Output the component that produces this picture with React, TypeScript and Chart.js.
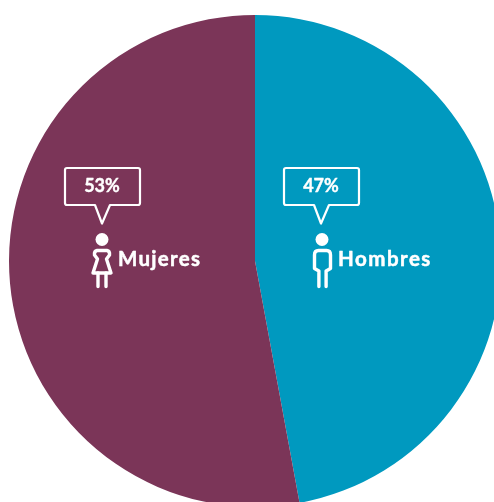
import React, { useEffect, useRef } from "react";
import { Chart, registerables } from "chart.js";

Chart.register(...registerables);

const categories = ["Hombres", "Mujeres"];
const values = [47.1, 52.9];
const colors = ["#0099BF", "#7B3558"];
const percentLabels = ["47%", "53%"];

const WHITE = "#FFFFFF";

function bubble(ctx: CanvasRenderingContext2D, dx: number) {
  const l = 65 + dx, r = 140 + dx, t = 168, b = 205, rad = 2;
  ctx.beginPath();
  ctx.moveTo(l + rad, t);
  ctx.lineTo(r - rad, t);
  ctx.quadraticCurveTo(r, t, r, t + rad);
  ctx.lineTo(r, b - rad);
  ctx.quadraticCurveTo(r, b, r - rad, b);
  ctx.lineTo(110 + dx, b);
  ctx.lineTo(102 + dx, 223.5);
  ctx.lineTo(95 + dx, b);
  ctx.lineTo(l + rad, b);
  ctx.quadraticCurveTo(l, b, l, b - rad);
  ctx.lineTo(l, t + rad);
  ctx.quadraticCurveTo(l, t, l + rad, t);
  ctx.closePath();
  ctx.lineWidth = 2.2;
  ctx.strokeStyle = WHITE;
  ctx.lineJoin = "round";
  ctx.stroke();
}

function head(ctx: CanvasRenderingContext2D, x: number) {
  ctx.beginPath();
  ctx.arc(x, 239.5, 6.5, 0, Math.PI * 2);
  ctx.fillStyle = WHITE;
  ctx.fill();
}

function woman(ctx: CanvasRenderingContext2D) {
  const x = 102;
  head(ctx, x);
  ctx.strokeStyle = WHITE;
  ctx.lineWidth = 3.4;
  ctx.lineCap = "round";
  ctx.lineJoin = "round";
  ctx.beginPath();
  ctx.moveTo(x - 5, 250.5);
  ctx.lineTo(x + 5, 250.5);
  ctx.quadraticCurveTo(x + 8, 251, x + 7.5, 255);
  ctx.lineTo(x + 4.5, 259);
  ctx.lineTo(x + 9, 273);
  ctx.lineTo(x - 9, 273);
  ctx.lineTo(x - 4.5, 259);
  ctx.lineTo(x - 7.5, 255);
  ctx.quadraticCurveTo(x - 8, 251, x - 5, 250.5);
  ctx.stroke();
  ctx.beginPath();
  ctx.moveTo(x - 4, 273);
  ctx.lineTo(x - 4, 286.5);
  ctx.moveTo(x + 4, 273);
  ctx.lineTo(x + 4, 286.5);
  ctx.stroke();
}

function man(ctx: CanvasRenderingContext2D) {
  const x = 322.5;
  head(ctx, x - 0.5);
  ctx.strokeStyle = WHITE;
  ctx.lineWidth = 3.4;
  ctx.lineCap = "round";
  ctx.lineJoin = "round";
  ctx.beginPath();
  ctx.moveTo(x - 3.6, 286.5);
  ctx.lineTo(x - 3.6, 271);
  ctx.lineTo(x - 8, 268.5);
  ctx.lineTo(x - 8, 255);
  ctx.quadraticCurveTo(x - 8, 250.5, x - 4, 250.5);
  ctx.lineTo(x + 4, 250.5);
  ctx.quadraticCurveTo(x + 8, 250.5, x + 8, 255);
  ctx.lineTo(x + 8, 268.5);
  ctx.lineTo(x + 3.6, 271);
  ctx.lineTo(x + 3.6, 286.5);
  ctx.stroke();
}

function heavyText(ctx: CanvasRenderingContext2D, s: string, x: number, y: number, w: number) {
  ctx.lineWidth = w;
  ctx.lineJoin = "round";
  ctx.strokeStyle = WHITE;
  ctx.strokeText(s, x, y);
  ctx.fillText(s, x, y);
}

const overlay = {
  id: "overlay",
  afterDraw(chart: Chart) {
    const ctx = chart.ctx;
    ctx.save();
    bubble(ctx, 0);
    bubble(ctx, 219);
    woman(ctx);
    man(ctx);
    ctx.fillStyle = WHITE;
    ctx.textBaseline = "middle";
    ctx.textAlign = "center";
    ctx.font = "bold 18px Lato";
    heavyText(ctx, percentLabels[1], 102, 186, 0.4);
    heavyText(ctx, percentLabels[0], 321, 186, 0.4);
    ctx.textAlign = "left";
    ctx.font = "bold 20.5px Lato";
    (ctx as any).letterSpacing = "1.3px";
    heavyText(ctx, categories[1], 118, 259.5, 0.5);
    (ctx as any).letterSpacing = "1.5px";
    heavyText(ctx, categories[0], 338, 259.5, 0.5);
    ctx.restore();
  },
};

export default function App() {
  const ref = useRef<HTMLCanvasElement>(null);
  useEffect(() => {
    const chart = new Chart(ref.current!, {
      type: "pie",
      data: {
        labels: categories,
        datasets: [{ data: values, backgroundColor: colors, borderWidth: 0 }],
      },
      options: {
        responsive: false,
        animation: false,
        layout: { padding: 9 },
        plugins: { legend: { display: false }, tooltip: { enabled: false } },
      },
      plugins: [overlay],
    });
    return () => chart.destroy();
  }, []);
  return (
    <div style={{ position: "fixed", left: 0, top: 0, width: 494, height: 502, overflow: "hidden", background: "#fff" }}>
      <canvas ref={ref} width={510} height={522} style={{ display: "block" }} />
    </div>
  );
}
